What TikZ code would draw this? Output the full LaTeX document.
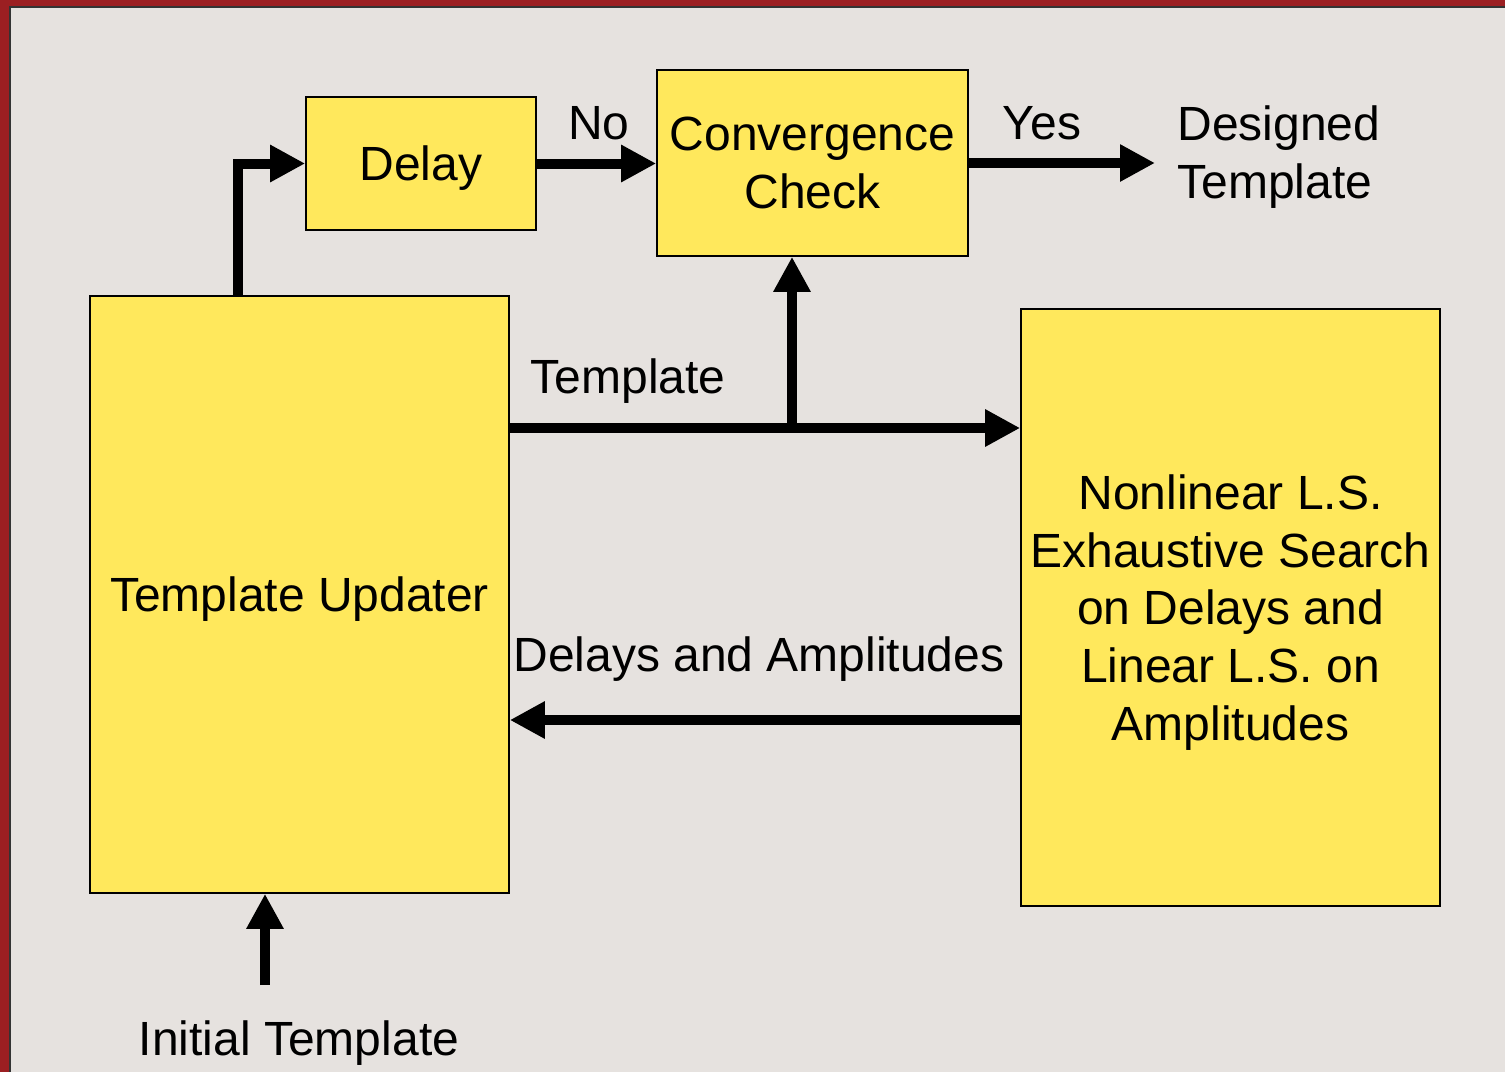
\documentclass[tikz,border=0pt]{standalone}
\usepackage{fontspec}
\setmainfont{Liberation Sans}
\usepackage{tikz}
\usetikzlibrary{arrows.meta}
\definecolor{slidebg}{HTML}{E6E2DF}
\definecolor{slideframe}{HTML}{9B1F22}
\definecolor{boxfill}{HTML}{FFE85C}
\tikzset{
	block/.style={draw=black,line width=0.8pt,fill=boxfill,align=center,inner sep=0pt,text depth=0pt},
	flow/.style={line width=5pt,-{Triangle[length=17.5pt,width=17.5pt]}},
	lbl/.style={align=left,inner sep=0pt,text depth=0pt}
}

\begin{document}
\begin{tikzpicture}[x=0.5pt,y=-0.5pt,font=\fontsize{24pt}{28.8pt}\selectfont]
		\useasboundingbox (0,0) rectangle (1505,1072);
		\fill[slideframe] (0,0) rectangle (1505,1072);
		\fill[slidebg] (10,7) rectangle (1505,1072);
		\draw[black!80,line width=0.8pt] (10,1072) -- (10,7) -- (1505,7);
		\node[block,minimum width=115pt,minimum height=66.5pt] (delay) at (421,163.5) {Delay};
		\node[block,minimum width=155.5pt,minimum height=93pt] (conv) at (812.5,163) {Convergence\\Check};
		\node[block,minimum width=209.5pt,minimum height=298.5pt] (upd) at (299.5,594.5) {Template Updater};
		\node[block,minimum width=209.5pt,minimum height=298.5pt] (nls) at (1230.5,607.5) {Nonlinear L.S.\\Exhaustive Search\\on Delays and\\Linear L.S. on\\Amplitudes};
		\coordinate (tap) at (238,296);
		\coordinate (split) at (792,428);
		\coordinate (back) at (1021,720);
		\coordinate (init) at (265,985);
		\coordinate (out) at (1155,163);
		\draw[flow] (tap) |- (delay.west);
		\draw[flow] (delay.east) -- (conv.west |- delay.east);
		\draw[flow] (conv.east |- out) -- (out);
		\draw[flow] (upd.east |- split) -- (nls.west |- split);
		\draw[flow] (split) -- (split |- conv.south);
		\draw[flow] (nls.west |- back) -- (upd.east |- back);
		\draw[flow] (init) -- (init |- upd.south);
		\node[lbl] (no) at (599,123) {No};
		\node[lbl] (yes) at (1042,123) {Yes};
		\node[lbl,anchor=west] (designed) at (1177,152) {Designed\\Template};
		\node[lbl] (tmpl) at (628,376) {Template};
		\node[lbl] (dela) at (759,654) {Delays and Amplitudes};
		\node[lbl] (initlbl) at (299,1038) {Initial Template};
	\end{tikzpicture}
\end{document}
